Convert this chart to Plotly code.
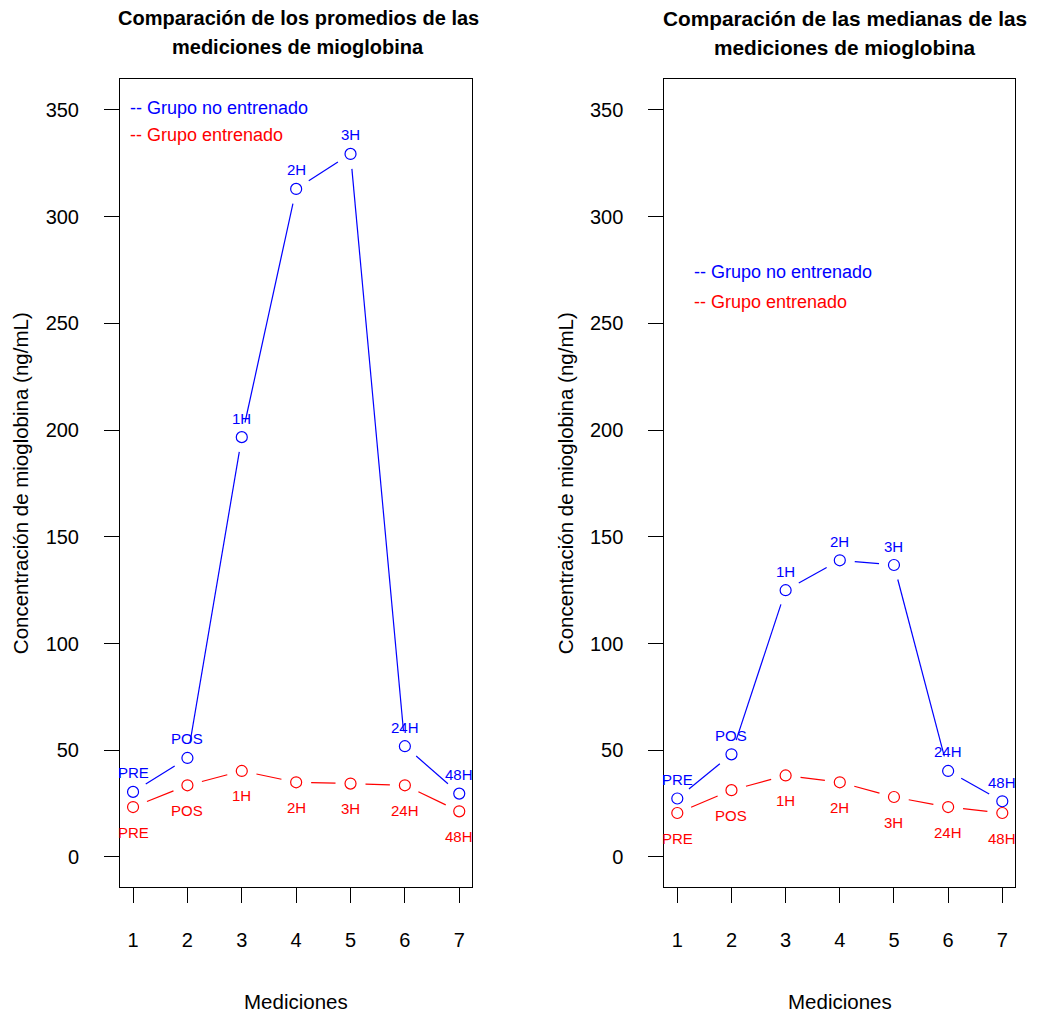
import math
import plotly.graph_objects as go

# The page body has an 8px margin, so the figure starts at (8, 8);
# every reference pixel position is shifted by OFF.
OFF = 8
W, H = 1038 - OFF, 1015 - OFF

# ---------------- data ----------------
mediciones = [1, 2, 3, 4, 5, 6, 7]
etiquetas = ["PRE", "POS", "1H", "2H", "3H", "24H", "48H"]
prom_no_entrenado = [30.5, 46.4, 196.7, 313.0, 329.4, 51.9, 29.7]
prom_entrenado = [23.4, 33.6, 40.3, 35.0, 34.4, 33.6, 21.4]
med_no_entrenado = [27.4, 48.1, 125.0, 139.0, 136.8, 40.3, 26.1]
med_entrenado = [20.6, 31.3, 38.2, 35.0, 28.1, 23.4, 20.6]
y_ticks = [0, 50, 100, 150, 200, 250, 300, 350]
x_ticks = [1, 2, 3, 4, 5, 6, 7]
titulos = [["Comparación de los promedios de las", "mediciones de mioglobina"],
           ["Comparación de las medianas de las", "mediciones de mioglobina"]]
leyenda = ["-- Grupo no entrenado", "-- Grupo entrenado"]
ylabel = "Concentración de mioglobina (ng/mL)"
xlabel = "Mediciones"

BLUE = "#0000FF"
RED = "#FF0000"
FONT = "Liberation Sans, Arial, Helvetica, sans-serif"


def px(x):
    return (x - OFF) / W


def py(y):
    return 1 - (y - OFF) / H


# ---------------- layout geometry (reference pixels) ----------------
panels = [
    dict(x0=120.0, x1=472.3, title_cx=298, title_size=20),
    dict(x0=664.3, x1=1015.3, title_cx=845, title_size=20.8),
]
y_top, y_bot = 79.0, 887.3
xr = [0.76, 7.24]
yr = [-14.2, 364.5]


def segs(xs, ys, wpx, hpx, gap=15.0):
    sx = wpx / (xr[1] - xr[0])
    sy = hpx / (yr[1] - yr[0])
    X, Y = [], []
    for i in range(len(xs) - 1):
        ddx = xs[i + 1] - xs[i]
        ddy = ys[i + 1] - ys[i]
        L = math.hypot(ddx * sx, ddy * sy)
        if L <= 2 * gap:
            continue
        f = gap / L
        X += [xs[i] + ddx * f, xs[i + 1] - ddx * f, None]
        Y += [ys[i] + ddy * f, ys[i + 1] - ddy * f, None]
    return X, Y


fig = go.Figure()
annotations = []
series = [(prom_no_entrenado, prom_entrenado), (med_no_entrenado, med_entrenado)]

for k, (p, (blue_vals, red_vals)) in enumerate(zip(panels, series)):
    xa = "x" if k == 0 else "x2"
    ya = "y" if k == 0 else "y2"
    wpx = p["x1"] - p["x0"]
    hpx = y_bot - y_top
    for vals, col, shift in [(blue_vals, BLUE, 19), (red_vals, RED, -25)]:
        sxv, syv = segs(mediciones, vals, wpx, hpx)
        fig.add_trace(go.Scatter(x=sxv, y=syv, mode="lines", xaxis=xa, yaxis=ya,
                                 line=dict(color=col, width=1.2), showlegend=False,
                                 hoverinfo="skip"))
        fig.add_trace(go.Scatter(x=mediciones, y=vals, mode="markers", xaxis=xa, yaxis=ya,
                                 marker=dict(symbol="circle-open", size=11, color=col,
                                             line=dict(width=1.2, color=col)),
                                 showlegend=False))
        for xv, yv, lab in zip(mediciones, vals, etiquetas):
            annotations.append(dict(x=xv, y=yv, xref=xa, yref=ya, text=lab, showarrow=False,
                                    yshift=shift, font=dict(size=15, color=col, family=FONT)))
    cx = (p["x0"] + p["x1"]) / 2
    # title (two lines)
    for line, ty in zip(titulos[k], [18, 47]):
        annotations.append(dict(x=px(p["title_cx"]), y=py(ty), xref="paper", yref="paper",
                                xanchor="center", yanchor="middle", text="<b>" + line + "</b>",
                                showarrow=False,
                                font=dict(size=p["title_size"], color="black", family=FONT)))
    # x label
    annotations.append(dict(x=px(cx), y=py(1001), xref="paper", yref="paper", xanchor="center",
                            yanchor="middle", text=xlabel, showarrow=False,
                            font=dict(size=20.5, color="black", family=FONT)))
    # y label
    ylx = 20 if k == 0 else 565
    annotations.append(dict(x=px(ylx), y=py((y_top + y_bot) / 2), xref="paper", yref="paper",
                            xanchor="center", yanchor="middle", text=ylabel, textangle=-90,
                            showarrow=False, font=dict(size=20.5, color="black", family=FONT)))

# legends (text)
leg_pos = [[(128, 108), (128, 135)], [(692, 272), (692, 302)]]
for k in range(2):
    for (lx, ly), txt, col in zip(leg_pos[k], leyenda, [BLUE, RED]):
        annotations.append(dict(x=px(lx), y=py(ly), xref="paper", yref="paper", xanchor="left",
                                yanchor="middle", text=txt, showarrow=False,
                                font=dict(size=18, color=col, family=FONT)))

axis_common = dict(showline=True, mirror=True, linecolor="black", linewidth=1,
                   ticks="outside", ticklen=15, tickcolor="black", tickwidth=1,
                   showgrid=False, zeroline=False,
                   tickfont=dict(size=20, color="black", family=FONT))

ydom = [py(y_bot), py(y_top)]
fig.update_layout(
    width=W, height=H, margin=dict(l=0, r=0, t=0, b=0),
    paper_bgcolor="white", plot_bgcolor="white", showlegend=False,
    xaxis=dict(domain=[px(panels[0]["x0"]), px(panels[0]["x1"])], range=xr, anchor="y",
               tickvals=x_ticks, ticklabelstandoff=20, **axis_common),
    yaxis=dict(domain=ydom, range=yr, anchor="x", tickvals=y_ticks, ticklabelstandoff=21,
               **axis_common),
    xaxis2=dict(domain=[px(panels[1]["x0"]), px(panels[1]["x1"])], range=xr, anchor="y2",
                tickvals=x_ticks, ticklabelstandoff=20, **axis_common),
    yaxis2=dict(domain=ydom, range=yr, anchor="x2", tickvals=y_ticks, ticklabelstandoff=21,
                **axis_common),
    annotations=annotations,
)

fig.write_html("out.html")
